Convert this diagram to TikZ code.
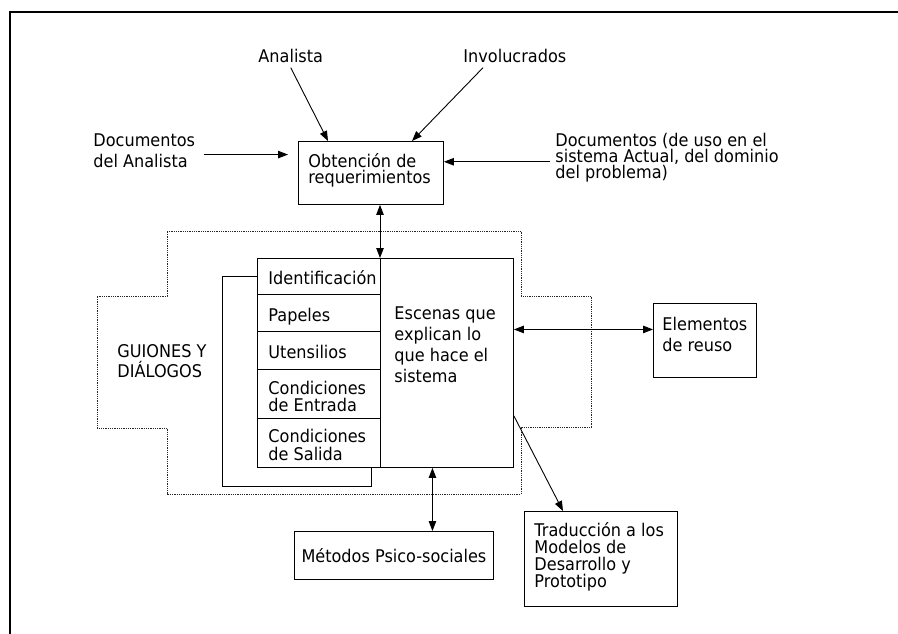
\documentclass[tikz,border=0pt]{standalone}
\usepackage{fontspec}
\setmainfont{DejaVu Sans}[FakeStretch=0.92]
\usetikzlibrary{arrows.meta,calc}
% font size 17.5pt with a chosen line distance
\newcommand\fs[1]{\fontsize{17.5}{#1}\selectfont\lineskiplimit=-30pt\relax}
% fixes the height of a first line so that its top is predictable
\newcommand\topline{\rule{0pt}{15pt}}
\begin{document}
\begin{tikzpicture}[x=1pt,y=-1pt,line width=0.9pt,
  cell/.style={draw,line width=0.9pt,inner sep=0pt,anchor=north west,font=\fs{21}},
  txt/.style={inner sep=0pt,anchor=north west,align=left},
  tip/.tip={Triangle[length=10pt,width=7.5pt]},
  arr/.style={-tip,line width=0.9pt},
  arrtwo/.style={tip-tip,line width=0.9pt},
  guide/.style={line width=1pt,dash pattern=on 1pt off 0.8pt,black!85}]
\useasboundingbox (0,0) rectangle (898,633);

% outer frame (top and left edges)
\draw[line width=2.2pt] (10,640) -- (10,12) -- (905,12);

% dotted cross around the script block
\draw[guide] (167,231) -- (521,231) -- (521,296) -- (591,296) -- (591,427)
  -- (521,427) -- (521,494) -- (167,494) -- (167,428) -- (97,428)
  -- (97,296) -- (167,296) -- cycle;

% boxes
\node[cell,minimum width=145pt,minimum height=63pt] (obt) at (298,141) {};
\node[cell,minimum width=123pt,minimum height=36pt] (c1) at (257,258) {};
\node[cell,minimum width=123pt,minimum height=37pt] (c2) at (257,294) {};
\node[cell,minimum width=123pt,minimum height=38pt] (c3) at (257,331) {};
\node[cell,minimum width=123pt,minimum height=49pt] (c4) at (257,369) {};
\node[cell,minimum width=123pt,minimum height=49pt] (c5) at (257,418) {};
\node[cell,minimum width=133pt,minimum height=209pt] (esc) at (380,258) {};
\node[cell,minimum width=103pt,minimum height=74pt] (reu) at (653,303) {};
\node[cell,minimum width=153pt,minimum height=95pt] (tra) at (524,511) {};
\node[cell,minimum width=199pt,minimum height=48pt] (met) at (294,531) {Métodos Psico-sociales};

% back panel behind the column of cells
\draw (c1.west) -- ++(-35,0) |- ($(c5.south east)+(-9,19)$) -- ($(c5.south east)+(-9,0)$);

% texts
\node[txt,anchor=base west,font=\fs{21}] (ana) at (258,62) {Analista};
\node[txt,anchor=base west,font=\fs{21}] (inv) at (463,62) {Involucrados};
\node[txt,font=\fs{21}] (docA) at (93,131) {\topline Documentos\\del Analista};
\node[txt,font=\fs{16}] (docR) at (555,131) {\topline Documentos (de uso en el\\sistema Actual, del dominio\\del problema)};
\node[txt,font=\fs{20}] (gui) at (117,342) {\topline GUIONES Y\\DIÁLOGOS};
\node[txt,font=\fs{16}] (tobt) at ($(obt.north west)+(10,11)$) {\topline Obtención de\\requerimientos};
\node[txt,font=\fs{17}] (t1) at ($(c1.north west)+(11,11)$) {\topline Identificación};
\node[txt,font=\fs{17}] (t2) at ($(c2.north west)+(11,12)$) {\topline Papeles};
\node[txt,font=\fs{17}] (t3) at ($(c3.north west)+(11,12)$) {\topline Utensilios};
\node[txt,font=\fs{17}] (t4) at ($(c4.north west)+(11,10)$) {\topline Condiciones\\de Entrada};
\node[txt,font=\fs{18}] (t5) at ($(c5.north west)+(11,9)$) {\topline Condiciones\\de Salida};
\node[txt,font=\fs{21}] (tesc) at ($(esc.north west)+(14,46)$) {\topline Escenas que\\explican lo\\que hace el\\sistema};
\node[txt,font=\fs{21}] (treu) at ($(reu.north west)+(9,12)$) {\topline Elementos\\de reuso};
\node[txt,font=\fs{17}] (ttra) at ($(tra.north west)+(10,10)$) {\topline Traducción a los\\Modelos de\\Desarrollo y\\Prototipo};

% connector end points
\coordinate (pA) at ($(docA.east)+(8,5)$);
\coordinate (pR) at ($(docR.west)+(-5,5)$);
\coordinate (pE) at ($(reu.west)+(0,-11)$);
\coordinate (pM) at ($(met.north)+(38.5,0)$);

% connectors
\draw[arr] ($(ana.south)+(0,5)$) -- ($(obt.north west)+(30,0)$);
\draw[arr] ($(inv.south west)+(20,5)$) -- ($(obt.north west)+(114,0)$);
\draw[arr,shorten >=10pt] (pA) -- (pA -| obt.west);
\draw[arr] (pR) -- (pR -| obt.east);
\draw[arrtwo] (obt.south -| esc.north west) -- (esc.north west);
\draw[arrtwo] (pE -| esc.east) -- (pE);
\draw[arr] ($(esc.south east)+(0,-52)$) -- ($(tra.north west)+(39,0)$);
\draw[arrtwo] (pM |- esc.south) -- (pM);
\end{tikzpicture}
\end{document}
